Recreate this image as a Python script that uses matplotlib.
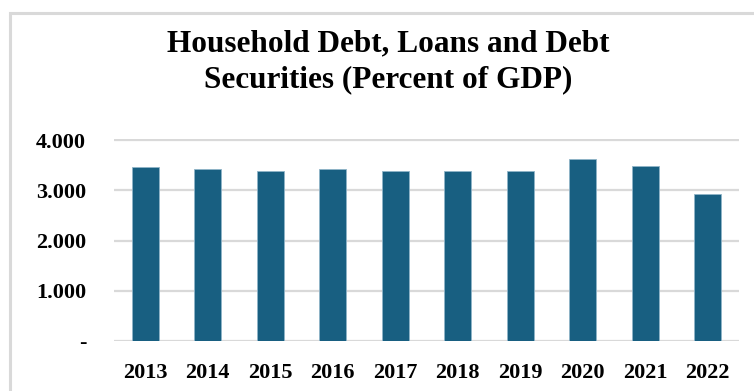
import matplotlib.pyplot as plt
from matplotlib.patches import Rectangle
from matplotlib.ticker import FuncFormatter

years = ["2013", "2014", "2015", "2016", "2017", "2018", "2019", "2020", "2021", "2022"]
debt = [3.46, 3.42, 3.39, 3.42, 3.39, 3.39, 3.39, 3.63, 3.49, 2.93]
yticks = [0, 1, 2, 3, 4]

BAR = "#185F81"
GRID = "#d9d9d9"

plt.rcParams["font.family"] = ["Liberation Serif", "DejaVu Serif"]
plt.rcParams["font.weight"] = "bold"

fig = plt.figure(figsize=(7.54, 3.91), dpi=100)

# outer chart frame (cut off at right and bottom)
fig.patches.append(Rectangle((10 / 754, -0.05), 1.2, (391 - 13) / 391 + 0.05,
                             transform=fig.transFigure, fill=False,
                             edgecolor=GRID, linewidth=2.2))

ax = fig.add_axes([114 / 754, 50 / 391, 625 / 754, 201 / 391 * 1.005])

x = range(len(years))
ax.bar(x, debt, width=0.43, color=BAR, edgecolor="#8fb4c8", linewidth=0.6, zorder=3)

ax.set_xlim(-0.5, len(years) - 0.5)
ax.set_ylim(0, 4.02)
ax.set_yticks(yticks)
ax.yaxis.set_major_formatter(FuncFormatter(lambda v, p: "-" if v == 0 else f"{v:.3f}"))
ax.set_xticks(list(x))
ax.set_xticklabels(years)
ax.grid(axis="y", color=GRID, linewidth=1.6, zorder=0)
ax.tick_params(length=0, labelsize=16, pad=16)
ax.tick_params(axis="y", pad=20)
for s in ax.spines.values():
    s.set_visible(False)

fig.text(388 / 754, 1 - 62 / 391, "Household Debt, Loans and Debt\nSecurities (Percent of GDP)",
         ha="center", va="center", fontsize=22.5, fontweight="bold", linespacing=1.3)

fig.savefig("out.png", dpi=100)
